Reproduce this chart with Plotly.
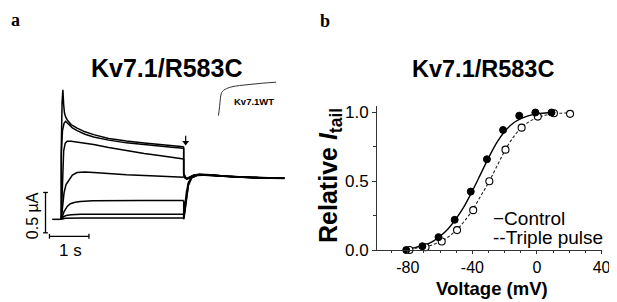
import plotly.graph_objects as go

W, H = 617, 302
FONT = "Liberation Sans, Arial, sans-serif"

# ---------------- Panel a: current traces (time in s, current in uA) ----------------
hold_t = [-0.23, 0.0]
hold_i = [0.0, 0.0]

tr1_t = [0.0, 0.0, 0.02, 0.04, 0.06, 0.08, 0.11, 0.16, 0.25, 0.4, 0.6, 0.82, 1.2, 1.65, 2.1, 2.48, 2.8, 3.1]
tr1_i = [0.0, 0.9, 1.45, 1.607, 1.42, 1.32, 1.27, 1.225, 1.175, 1.13, 1.085, 1.05, 1.003, 0.97, 0.947, 0.93, 0.914, 0.9]
tr2_t = [0.0, 0.0, 0.03, 0.07, 0.11, 0.18, 0.28, 0.4, 0.6, 0.82, 1.2, 1.65, 2.1, 2.48, 2.8, 3.1]
tr2_i = [0.0, 0.8, 1.1, 1.19, 1.215, 1.18, 1.135, 1.1, 1.055, 1.022, 0.982, 0.948, 0.924, 0.908, 0.895, 0.882]
tr3_t = [0.0, 0.03, 0.06, 0.1, 0.15, 0.25, 0.5, 0.82, 1.2, 1.65, 2.1, 2.48, 2.8, 3.1]
tr3_i = [0.0, 0.55, 0.85, 0.945, 0.968, 0.968, 0.955, 0.929, 0.89, 0.849, 0.815, 0.79, 0.77, 0.748]
tr4_t = [0.0, 0.03, 0.07, 0.12, 0.19, 0.28, 0.4, 0.6, 0.82, 1.2, 1.65, 2.4, 3.1]
tr4_i = [0.0, 0.15, 0.33, 0.43, 0.49, 0.55, 0.58, 0.588, 0.58, 0.567, 0.553, 0.537, 0.522]
tr5_t = [0.0, 0.04, 0.07, 0.15, 0.23, 0.35, 0.48, 0.8, 1.23, 2.0, 3.1]
tr5_i = [0.0, 0.05, 0.095, 0.16, 0.194, 0.212, 0.222, 0.23, 0.234, 0.234, 0.234]
tr6_t = [0.0, 0.05, 0.12, 0.25, 0.5, 1.0, 3.1]
tr6_i = [0.0, 0.03, 0.048, 0.057, 0.062, 0.063, 0.063]
tr7_t = [0.0, 0.1, 0.5, 3.1]
tr7_i = [0.0, 0.012, 0.016, 0.016]

# tail currents after the step (upper and lower families)
tail_hi_t = [3.1, 3.14, 3.18, 3.25, 3.35, 3.5, 3.7, 4.0, 4.5, 5.0, 5.65]
tail_hi_1 = [0.57, 0.53, 0.505, 0.51, 0.54, 0.56, 0.555, 0.54, 0.525, 0.515, 0.51]
tail_hi_2 = [0.56, 0.52, 0.5, 0.515, 0.545, 0.553, 0.548, 0.535, 0.52, 0.512, 0.507]
tail_hi_3 = [0.55, 0.515, 0.5, 0.52, 0.55, 0.558, 0.55, 0.538, 0.524, 0.516, 0.512]
tail_hi_4 = [0.53, 0.51, 0.505, 0.525, 0.545, 0.55, 0.545, 0.532, 0.52, 0.512, 0.508]
tail_lo_t = [3.1, 3.13, 3.17, 3.22, 3.3, 3.45, 3.7, 4.2, 5.0, 5.65]
tail_lo_5 = [0.02, 0.17, 0.34, 0.46, 0.52, 0.545, 0.55, 0.53, 0.515, 0.51]
tail_lo_6 = [0.01, 0.12, 0.3, 0.44, 0.515, 0.55, 0.555, 0.535, 0.518, 0.513]
tail_lo_7 = [0.0, 0.09, 0.26, 0.42, 0.51, 0.548, 0.552, 0.533, 0.516, 0.511]

# inset WT trace
wt_t = [3.98, 4.01, 4.03, 4.05, 4.08, 4.15, 4.32, 4.73, 5.1, 5.44]
wt_i = [1.286, 1.40, 1.50, 1.555, 1.585, 1.612, 1.643, 1.67, 1.688, 1.70]

# arrow marking the tail
arrow_t = [3.15, 3.15]
arrow_i = [(218 - 131) / 84, (218 - 138) / 84]

# ---------------- Panel b: activation curves ----------------
ctrl_v = [-81, -71, -61, -51, -41, -31, -21, -11, -1, 9]
ctrl_i = [0.0, 0.028, 0.094, 0.22, 0.425, 0.66, 0.873, 0.977, 1.0, 1.0]
trip_v = [-79, -69, -59, -49.5, -39.5, -29.5, -19.5, -9.5, 0.5, 10.5, 20.5]
trip_i = [0.0, 0.02, 0.062, 0.145, 0.29, 0.5, 0.73, 0.89, 0.97, 0.995, 0.99]

ctrl_fit_v = [-81, -75, -70, -65, -60, -55, -50, -45, -40, -35, -30, -25, -20, -15, -10, -5, 0, 5, 9]
ctrl_fit_i = [0.006, 0.02, 0.035, 0.06, 0.1, 0.155, 0.23, 0.32, 0.43, 0.55, 0.67, 0.78, 0.862, 0.92, 0.955, 0.977, 0.99, 0.996, 1.0]
trip_fit_v = [-79, -75, -70, -65, -60, -55, -50, -45, -40, -35, -30, -25, -20, -15, -10, -5, 0, 5, 10, 15, 20.5]
trip_fit_i = [0.009, 0.014, 0.022, 0.037, 0.06, 0.095, 0.145, 0.21, 0.29, 0.39, 0.49, 0.605, 0.72, 0.815, 0.885, 0.932, 0.962, 0.98, 0.99, 0.995, 0.998]

# ---------------- figure ----------------
fig = go.Figure()

def px(x):
    return x / W

def py(y):
    return 1 - y / H

lw = 1.5
for t, i in [(hold_t, hold_i), (tr1_t, tr1_i), (tr2_t, tr2_i), (tr3_t, tr3_i), (tr4_t, tr4_i),
             (tr5_t, tr5_i), (tr6_t, tr6_i), (tr7_t, tr7_i)]:
    fig.add_trace(go.Scatter(x=t, y=i, mode="lines", line=dict(color="black", width=lw),
                             xaxis="x", yaxis="y", showlegend=False, hoverinfo="skip"))

ends = [(tr1_t, tr1_i, tail_hi_t, tail_hi_1), (tr2_t, tr2_i, tail_hi_t, tail_hi_2),
        (tr3_t, tr3_i, tail_hi_t, tail_hi_3), (tr4_t, tr4_i, tail_hi_t, tail_hi_4),
        (tr5_t, tr5_i, tail_lo_t, tail_lo_5), (tr6_t, tr6_i, tail_lo_t, tail_lo_6),
        (tr7_t, tr7_i, tail_lo_t, tail_lo_7)]
for st, si, tt, ti in ends:
    fig.add_trace(go.Scatter(x=[st[-1]] + tt, y=[si[-1]] + ti, mode="lines",
                             line=dict(color="black", width=lw),
                             xaxis="x", yaxis="y", showlegend=False, hoverinfo="skip"))

fig.add_trace(go.Scatter(x=wt_t, y=wt_i, mode="lines", line=dict(color="#333", width=1.0, shape="spline"),
                         xaxis="x", yaxis="y", showlegend=False, hoverinfo="skip"))

# arrow: shaft + head
fig.add_trace(go.Scatter(x=arrow_t, y=arrow_i, mode="lines", line=dict(color="black", width=1.2),
                         xaxis="x", yaxis="y", showlegend=False, hoverinfo="skip"))
fig.add_trace(go.Scatter(x=[arrow_t[-1]], y=[arrow_i[-1]], mode="markers",
                         marker=dict(symbol="triangle-down", size=6, color="black", line=dict(width=0)),
                         xaxis="x", yaxis="y", showlegend=False, hoverinfo="skip"))

# panel b
fig.add_trace(go.Scatter(x=ctrl_fit_v, y=ctrl_fit_i, mode="lines",
                         line=dict(color="black", width=1.4, shape="spline"),
                         xaxis="x2", yaxis="y2", showlegend=False, cliponaxis=False, hoverinfo="skip"))
fig.add_trace(go.Scatter(x=trip_fit_v, y=trip_fit_i, mode="lines",
                         line=dict(color="#222", width=1.1, shape="spline", dash="3px,2px"),
                         xaxis="x2", yaxis="y2", showlegend=False, cliponaxis=False, hoverinfo="skip"))
fig.add_trace(go.Scatter(x=trip_v, y=trip_i, mode="markers",
                         marker=dict(symbol="circle", size=7, color="white",
                                     line=dict(color="black", width=1.1)),
                         xaxis="x2", yaxis="y2", showlegend=False, cliponaxis=False))
fig.add_trace(go.Scatter(x=ctrl_v, y=ctrl_i, mode="markers",
                         marker=dict(symbol="circle", size=7, color="black",
                                     line=dict(color="black", width=1)),
                         xaxis="x2", yaxis="y2", showlegend=False, cliponaxis=False))

# scale bars (0.5 uA, 1 s)
sb_x = -0.4
sb_y0, sb_y1 = -0.167, 0.333
hb_y = -0.21
hb_x0, hb_x1 = -0.3, 0.7
shapes = [
    dict(type="line", xref="x", yref="y", x0=sb_x, x1=sb_x, y0=sb_y0, y1=sb_y1, line=dict(color="black", width=1.3)),
    dict(type="line", xref="x", yref="y", x0=sb_x - 0.06, x1=sb_x + 0.06, y0=sb_y1, y1=sb_y1, line=dict(color="black", width=1.3)),
    dict(type="line", xref="x", yref="y", x0=sb_x - 0.06, x1=sb_x + 0.06, y0=sb_y0, y1=sb_y0, line=dict(color="black", width=1.3)),
    dict(type="line", xref="x", yref="y", x0=hb_x0, x1=hb_x1, y0=hb_y, y1=hb_y, line=dict(color="black", width=1.3)),
    dict(type="line", xref="x", yref="y", x0=hb_x0, x1=hb_x0, y0=hb_y - 0.03, y1=hb_y + 0.03, line=dict(color="black", width=1.3)),
    dict(type="line", xref="x", yref="y", x0=hb_x1, x1=hb_x1, y0=hb_y - 0.03, y1=hb_y + 0.03, line=dict(color="black", width=1.3)),
]

ann = [
    dict(text="<b>a</b>", x=px(1), y=py(10), xanchor="left", yanchor="middle",
         font=dict(family="Liberation Serif, Times New Roman, serif", size=18, color="black")),
    dict(text="<b>b</b>", x=px(314), y=py(11), xanchor="left", yanchor="middle",
         font=dict(family="Liberation Serif, Times New Roman, serif", size=18, color="black")),
    dict(text="<b>Kv7.1/R583C</b>", x=px(161), y=py(60), xanchor="center", yanchor="middle",
         font=dict(family=FONT, size=25, color="black")),
    dict(text="<b>Kv7.1/R583C</b>", x=px(481.5), y=py(61.5), xanchor="center", yanchor="middle",
         font=dict(family=FONT, size=23.5, color="black")),
    dict(text="<b>Kv7.1WT</b>", x=px(249), y=py(95), xanchor="center", yanchor="middle",
         font=dict(family=FONT, size=9.5, color="black")),
    dict(text="0.5 µA", x=px(25), y=py(214), xanchor="center", yanchor="middle", textangle=-90,
         font=dict(family=FONT, size=16, color="black")),
    dict(text="1 s", x=px(63), y=py(250), xanchor="center", yanchor="middle",
         font=dict(family=FONT, size=17, color="black")),
    dict(text="<b>Relative <i>I</i><sub>tail</sub></b>", x=px(326), y=py(172), xanchor="center", yanchor="middle",
         textangle=-90, font=dict(family=FONT, size=25, color="black")),
    dict(text="<b>Voltage (mV)</b>", x=px(490), y=py(290), xanchor="center", yanchor="middle",
         font=dict(family=FONT, size=18.5, color="black")),
    dict(text="\u2212Control", x=px(489), y=py(217), xanchor="left", yanchor="middle",
         font=dict(family=FONT, size=19, color="black")),
    dict(text="--Triple pulse", x=px(489), y=py(237), xanchor="left", yanchor="middle",
         font=dict(family=FONT, size=19, color="black")),
]
for a in ann:
    a.setdefault("xref", "paper")
    a.setdefault("yref", "paper")
    a.setdefault("showarrow", False)

fig.update_layout(
    width=W, height=H, autosize=False,
    margin=dict(l=0, r=0, t=0, b=0),
    paper_bgcolor="white", plot_bgcolor="white",
    showlegend=False,
    xaxis=dict(domain=[0, 300 / W], range=[-54 / 40, (300 - 54) / 40], visible=False),
    yaxis=dict(domain=[0, 1], range=[(218 - 302) / 84, 218 / 84], visible=False),
    xaxis2=dict(domain=[374 / W, 602 / W], range=[-99, 40.4], anchor="y2",
                showline=True, linecolor="#333", linewidth=1.3, showgrid=False, zeroline=False,
                tickmode="array", tickvals=[-80, -40, 0, 40], ticktext=["-80", "-40", "0", "40"],
                ticks="outside", ticklen=3, tickwidth=1, tickcolor="#333",
                minor=dict(dtick=10, tick0=0, ticks="outside", ticklen=2, tickcolor="#333"),
                tickfont=dict(family=FONT, size=16, color="black")),
    yaxis2=dict(domain=[1 - 250 / H, 1 - 100 / H], range=[0, 1.047], anchor="x2",
                showline=True, linecolor="#333", linewidth=1.3, showgrid=False, zeroline=False,
                tickmode="array", tickvals=[0, 0.5, 1.0], ticktext=["0.0", "0.5", "1.0"],
                ticks="outside", ticklen=4, tickwidth=1, tickcolor="#333",
                minor=dict(dtick=0.25, tick0=0, ticks="outside", ticklen=3, tickcolor="#333"),
                tickfont=dict(family=FONT, size=17, color="black")),
    shapes=shapes,
    annotations=ann,
)

fig.write_html("out.html")
